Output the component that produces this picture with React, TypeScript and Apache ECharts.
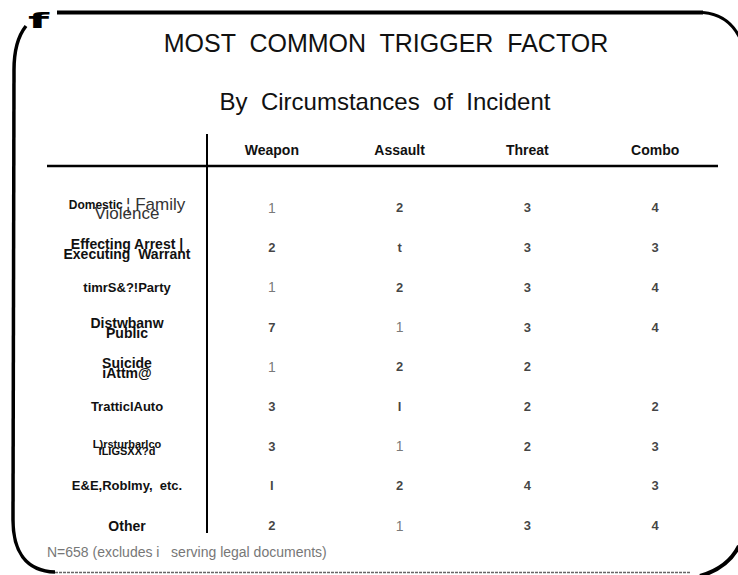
import React, { useEffect, useRef } from "react";
import * as echarts from "echarts";

const titleText = "MOST  COMMON  TRIGGER  FACTOR";
const subtitleText = "By  Circumstances  of  Incident";
const footerText = "N=658 (excludes i   serving legal documents)";

const columns = ["Weapon", "Assault", "Threat", "Combo"];
const rows = [
  "Domestic ¦ Family\nViolence",
  "Effecting Arrest |\nExecuting  Warrant",
  "timrS&?!Party",
  "Distwbanw\nPublic",
  "Suicide\niAttm@",
  "TratticlAuto",
  "L)rsturbarlco\nILIGSXX?d",
  "E&E,Roblmy,  etc.",
  "Other",
];
const weapon = ["1", "2", "1", "7", "1", "3", "3", "I", "2"];
const assault = ["2", "t", "2", "1", "2", "I", "1", "2", "1"];
const threat = ["3", "3", "3", "3", "2", "2", "2", "4", "3"];
const combo = ["4", "3", "4", "4", "", "2", "3", "3", "4"];

const FONT = "'Liberation Sans', Arial, sans-serif";

function rowFormatter(value: string, index: number): string {
  const lines = value.split("\n");
  if (index === 0) {
    return "{b|Domestic }{t|¦ Family}\n{t2|Violence}";
  }
  if (index === 6) {
    return `{s1|${lines[0]}}\n{s2|${lines[1]}}`;
  }
  if (lines.length > 1) {
    return `{a|${lines[0]}}\n{a2|${lines[1]}}`;
  }
  if (value === "Other") return `{o|${value}}`;
  return `{c|${value}}`;
}

export default function App() {
  const ref = useRef<HTMLDivElement>(null);
  useEffect(() => {
    if (!ref.current) return;
    const chart = echarts.init(ref.current, undefined, { renderer: "svg" });
    const cols = [weapon, assault, threat, combo];
    const data: any[] = [];
    cols.forEach((vals, ci) => {
      vals.forEach((v, ri) => {
        if (v !== "") data.push({ name: v, value: [ci, ri] });
      });
    });
    const boldLbl = { fontFamily: FONT, fontWeight: "bold", fontSize: 14, color: "#111" };
    chart.setOption({
      animation: false,
      backgroundColor: "#fff",
      grid: { left: 208, right: 19, top: 188, bottom: 29.5 },
      xAxis: {
        type: "category",
        data: columns,
        position: "top",
        offset: 22,
        axisLine: { show: false },
        axisTick: { show: false },
        splitLine: { show: false },
        axisLabel: {
          margin: 9,
          fontFamily: FONT,
          fontWeight: "bold",
          fontSize: 14,
          color: "#111",
        },
      },
      yAxis: {
        type: "category",
        data: rows,
        inverse: true,
        axisLine: { show: false },
        axisTick: { show: false },
        splitLine: { show: false },
        axisLabel: {
          margin: 81,
          align: "center",
          formatter: rowFormatter,
          rich: {
            a: { ...boldLbl, lineHeight: 12, align: "center" },
            a2: { ...boldLbl, lineHeight: 8, align: "center" },
            c: { ...boldLbl, fontSize: 13, align: "center" },
            o: { ...boldLbl, fontSize: 14, align: "center" },
            b: { ...boldLbl, fontSize: 12, lineHeight: 12 },
            t: { fontFamily: FONT, fontSize: 17, color: "#333", lineHeight: 12 },
            t2: { fontFamily: FONT, fontSize: 17, color: "#333", lineHeight: 6, align: "center" },
            s1: { ...boldLbl, fontSize: 11, lineHeight: 10, align: "center" },
            s2: { ...boldLbl, fontSize: 11, lineHeight: 5, align: "center" },
          },
        },
      },
      series: [
        {
          type: "scatter",
          data,
          symbolSize: 1,
          itemStyle: { color: "rgba(0,0,0,0)" },
          label: {
            show: true,
            position: "inside",
            formatter: (p: any) => (p.name === "1" ? `{one|${p.name}}` : `{v|${p.name}}`),
            rich: {
              v: { fontFamily: FONT, fontWeight: "bold", fontSize: 13, color: "#111" },
              one: { fontFamily: FONT, fontWeight: "normal", fontSize: 14, color: "#555" },
            },
          },
        },
      ],
      graphic: [
        {
          type: "text",
          x: 386,
          y: 30,
          style: { text: titleText, fontFamily: FONT, fontSize: 25, fill: "#111", textAlign: "center", textVerticalAlign: "top" },
        },
        {
          type: "text",
          x: 385,
          y: 89,
          style: { text: subtitleText, fontFamily: FONT, fontSize: 24, fill: "#111", textAlign: "center", textVerticalAlign: "top" },
        },
        {
          type: "text",
          x: 47,
          y: 545,
          style: { text: footerText, fontFamily: FONT, fontSize: 14, fill: "#777", textVerticalAlign: "top" },
        },
        {
          type: "text",
          x: 28,
          y: 9,
          scaleX: 2.2,
          style: { text: "f", fontFamily: "'DejaVu Sans', sans-serif", fontWeight: "bold", fontSize: 22, fill: "#000", textVerticalAlign: "top" },
        },
        {
          type: "line",
          shape: { x1: 47, y1: 166, x2: 718, y2: 166 },
          style: { stroke: "#000", lineWidth: 2.5 },
        },
        {
          type: "line",
          shape: { x1: 207, y1: 134, x2: 207, y2: 533 },
          style: { stroke: "#000", lineWidth: 2 },
        },
        {
          type: "line",
          shape: { x1: 57, y1: 12.5, x2: 703, y2: 12.5 },
          style: { stroke: "#000", lineWidth: 4 },
        },
        {
          type: "bezierCurve",
          shape: { x1: 703, y1: 12.5, cpx1: 722, cpy1: 14, cpx2: 733, cpy2: 24, x2: 740, y2: 38 },
          style: { stroke: "#000", lineWidth: 3, fill: "none" },
        },
        {
          type: "bezierCurve",
          shape: { x1: 26, y1: 26, cpx1: 18, cpy1: 36, cpx2: 14, cpy2: 52, x2: 14, y2: 70 },
          style: { stroke: "#000", lineWidth: 3.5, fill: "none" },
        },
        {
          type: "line",
          shape: { x1: 14, y1: 70, x2: 13, y2: 520 },
          style: { stroke: "#000", lineWidth: 3.5 },
        },
        {
          type: "bezierCurve",
          shape: { x1: 13, y1: 520, cpx1: 13, cpy1: 550, cpx2: 25, cpy2: 571, x2: 55, y2: 572 },
          style: { stroke: "#000", lineWidth: 3.5, fill: "none" },
        },
        {
          type: "line",
          shape: { x1: 55, y1: 572.5, x2: 690, y2: 572.5 },
          style: { stroke: "#666", lineWidth: 1.5, lineDash: [3, 1] },
        },
        {
          type: "bezierCurve",
          shape: { x1: 700, y1: 576, cpx1: 718, cpy1: 571, cpx2: 732, cpy2: 560, x2: 739, y2: 546 },
          style: { stroke: "#000", lineWidth: 4, fill: "none" },
        },
      ],
    });
    return () => chart.dispose();
  }, []);
  return (
    <div
      ref={ref}
      style={{ position: "fixed", left: 0, top: 0, width: 738, height: 575, background: "#fff" }}
    />
  );
}
